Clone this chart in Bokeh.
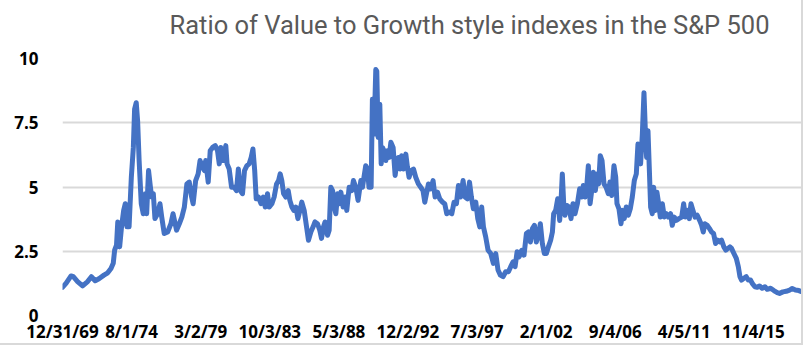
from bokeh.plotting import figure
from bokeh.models import Range1d, FixedTicker, ColumnDataSource, Title
from bokeh.embed import file_html
from bokeh.resources import INLINE

# Months elapsed since 12/31/1969 (category position) and value/growth ratio
months = [0, 2.8, 6.8, 8.6, 12, 16, 20, 23, 26, 29, 33, 36, 38.6, 40.4, 41.5, 43, 44, 45.5, 47, 48.7,
          50, 51.3, 53, 54.8, 56.4, 57.4, 58.7, 59.8, 61, 62.7, 64.3, 66, 67, 68.5, 70, 71, 72.3, 73.6,
          75.7, 77.6, 79, 81, 83.7, 86.3, 88, 90.8, 93, 95, 97, 99, 100.9, 102.8, 104, 106, 108, 109.5,
          111.5, 113, 114, 116, 117.6, 119.5, 121.6, 123.4, 124.8, 126, 128, 130, 131, 132.7, 134.6,
          136.7, 138.5, 140, 141.5, 143.3, 144.9, 146.8, 148.6, 150.2, 151.6, 153, 154.2, 156, 158,
          159.8, 161.4, 163.2, 164.5, 166.7, 168.5, 170.4, 172, 173.3, 174.6, 176, 177.8, 179.7, 181,
          182.6, 184.2, 185.8, 187.4, 189, 190.5, 192.4, 194.3, 195.8, 197.7, 199.5, 201, 203, 204.8,
          206.2, 207.8, 209, 211, 212.3, 213.6, 215, 216.3, 217.6, 219, 220.2, 221.6, 223.4, 225, 226.3,
          228.2, 230.3, 231.6, 233.5, 235.3, 237.5, 238.8, 240, 241.4, 242.8, 244, 245.7, 246.7, 248,
          249.4, 250.2, 251.3, 252.6, 253.7, 254.7, 256, 257.4, 258.7, 260, 261.4, 263.2, 264.8, 266,
          267.4, 268.8, 270, 271.4, 273.3, 274.6, 275.9, 277.5, 279.4, 281.2, 283.3, 285.2, 287, 288.4,
          291.3, 293.2, 295, 296.6, 298.5, 300.3, 302.5, 304.3, 305.9, 307.8, 309.9, 311.7, 313.6, 315.2,
          316.8, 318.9, 320.5, 322.3, 324, 325.5, 327.1, 329, 330.6, 332.2, 333.7, 335.1, 336.9, 338.8,
          340.9, 343, 344.9, 346.7, 348.6, 350.7, 352.8, 355, 356.8, 358.7, 360.3, 361.9, 363.5, 365.6,
          367.4, 369.3, 370.9, 372.5, 374.1, 375.7, 377.2, 378.8, 380.4, 382, 383.6, 385.2, 386.8, 388.6,
          390, 391, 392.6, 394.2, 395.8, 396.9, 397.9, 399, 400, 401.6, 403.2, 404.8, 406.4, 408, 409.9,
          411.7, 413.3, 414.6, 416, 417.5, 418.6, 420, 421.3, 422.6, 424.2, 425.5, 426.8, 428.1, 429.5,
          431.1, 432.7, 434.5, 435.8, 437.2, 439, 440.4, 441.4, 443, 444.6, 445.9, 447.2, 448.8, 450.4,
          452, 453.6, 455.2, 456.8, 458.1, 459.4, 460.2, 461.6, 462.9, 464, 465, 466.1, 467.2, 468.2,
          469.5, 470.6, 471.9, 473.2, 474.6, 475.9, 477.5, 479.1, 480.7, 482.2, 484.1, 485.4, 487, 488.6,
          490.7, 492.9, 494.5, 495.8, 497.4, 499, 500.3, 501.9, 503.5, 505.3, 507.2, 508.8, 510.1, 511.4,
          513.3, 515.1, 516.7, 518.3, 519.9, 521.5, 523.1, 524.7, 526.5, 528.1, 529.7, 531.3, 532.6,
          534.5, 536.4, 538, 539.3, 540.6, 542.4, 544.3, 545.9, 547.7, 549.1, 551.2, 553.1, 554.9, 557,
          559.2, 561, 563.7, 566.3, 569, 570.8, 573.5, 576.1, 578.8, 580.9, 583.5, 586.2, 588.3]

ratio = [1.10, 1.25, 1.54, 1.51, 1.32, 1.15, 1.32, 1.51, 1.35, 1.43, 1.57, 1.66, 1.83, 2.03, 2.54, 2.74,
         3.64, 2.67, 3.45, 4.09, 4.35, 3.45, 3.45, 5.38, 6.54, 8.03, 8.28, 7.57, 6.03, 4.35, 3.96, 4.74,
         3.96, 5.64, 4.99, 4.61, 4.74, 3.77, 3.96, 4.35, 3.83, 3.19, 3.25, 3.57, 3.96, 3.32, 3.57, 3.83,
         4.22, 5.12, 5.19, 4.61, 4.35, 5.25, 5.51, 6.03, 5.77, 5.64, 6.03, 5.19, 6.41, 6.54, 6.61, 6.41,
         5.90, 6.54, 6.03, 6.61, 5.90, 5.70, 4.99, 4.99, 4.86, 5.70, 4.86, 4.74, 5.64, 5.83, 5.90, 6.15,
         6.48, 5.64, 4.54, 4.61, 4.35, 4.61, 4.22, 4.74, 4.22, 4.35, 4.61, 5.12, 5.25, 5.51, 5.25, 4.74,
         4.61, 4.86, 4.48, 4.22, 4.09, 4.22, 3.77, 4.09, 4.41, 4.09, 3.45, 2.93, 3.25, 3.45, 3.64, 3.57,
         3.32, 3.00, 3.45, 3.64, 3.12, 3.32, 4.99, 4.86, 4.22, 3.96, 4.74, 4.35, 4.80, 4.22, 4.61, 4.09,
         4.99, 4.86, 5.25, 4.99, 4.48, 5.25, 4.99, 5.38, 5.83, 5.70, 4.99, 4.99, 8.41, 7.06, 9.57, 9.51,
         6.93, 8.22, 5.90, 6.54, 6.41, 6.03, 6.41, 6.15, 6.74, 6.54, 5.45, 5.90, 6.15, 5.70, 6.22, 5.70,
         6.28, 5.77, 5.38, 5.64, 5.70, 5.38, 5.12, 4.99, 4.86, 4.41,
         5.12, 4.93, 5.25, 4.61, 4.80, 4.54, 4.41, 4.35, 3.96, 4.03, 3.96, 4.41, 4.35, 5.06, 4.61, 5.25,
         4.61, 4.54, 5.19, 4.61, 4.15, 4.41, 3.77, 3.45, 4.22, 3.45, 3.06, 2.54, 2.41, 2.03, 2.41, 1.77,
         1.57, 1.51, 1.70, 1.70, 1.90, 2.09, 1.90, 2.48, 2.28, 2.54, 2.35, 3.19, 3.25, 2.86, 3.38, 3.51,
         2.86, 3.12, 3.57, 2.80, 2.41, 2.41, 2.67, 2.93, 3.25, 3.96, 4.09, 4.54, 3.70, 4.48, 5.51, 4.35,
         3.90, 4.28, 4.22, 3.77, 4.35, 3.96, 4.35, 4.93, 4.61, 5.06, 4.61, 5.12, 5.83, 4.35, 4.86, 5.57,
         4.86, 5.51, 5.12, 6.22, 6.03, 5.12, 4.99, 4.74, 5.19, 4.67, 5.83, 5.38, 4.35, 4.15, 3.57, 4.09,
         3.77, 4.22, 3.90, 4.15, 4.61, 5.25, 5.51, 6.67, 6.41, 5.90, 7.06, 8.67, 7.19, 6.15, 7.19, 5.64,
         4.22, 3.96, 4.99, 4.09, 4.80, 4.35, 3.83, 4.35, 3.83, 3.96, 3.83, 3.96, 3.51, 3.83, 3.70, 3.77,
         3.83, 4.35, 3.83, 4.09, 3.77, 4.35, 4.09, 3.83, 3.90, 3.70, 3.51, 3.25, 3.57, 3.51, 3.38, 3.25,
         3.19, 2.80, 2.93, 2.86, 2.93, 2.67, 2.54, 2.61, 2.67, 2.61, 2.41, 2.22, 1.90, 1.51, 1.38, 1.45,
         1.51, 1.38, 1.38, 1.25, 1.12, 1.10, 1.15, 1.06, 1.12, 1.02, 1.06, 0.97, 0.89, 0.86, 0.92, 0.94,
         0.99, 1.05, 0.99, 0.97, 0.93]

tick_months = [0, 55, 110, 165, 220, 275, 330, 385, 440, 495, 550]
tick_labels = ["12/31/69", "8/1/74", "3/2/79", "10/3/83", "5/3/88", "12/2/92",
               "7/3/97", "2/1/02", "9/4/06", "4/5/11", "11/4/15"]
y_ticks = [0, 2.5, 5, 7.5, 10]
y_labels = ["0", "2.5", "5", "7.5", "10"]
title_text = "Ratio of Value to Growth style indexes in the S&P 500"

src = ColumnDataSource(dict(m=months, r=ratio))

p = figure(width=803, height=345, output_backend="svg", toolbar_location=None,
           x_range=Range1d(0, 588.3), y_range=Range1d(0, 10),
           min_border_left=62, min_border_right=2, min_border_top=58, min_border_bottom=30,
           title=title_text)

# spacer between the plot frame and the title
p.add_layout(Title(text=" ", text_font_size="8px", standoff=6), "above")

p.title.text_font = "Roboto"
p.title.text_font_size = "25.5px"
p.title.text_font_style = "normal"
p.title.text_color = "#595959"
p.title.align = "left"
p.title.offset = 107
p.title.standoff = 4

p.line("m", "r", source=src, line_color="#4472C4", line_width=5,
       line_join="round", line_cap="round")

p.outline_line_color = None
p.background_fill_color = "white"
p.border_fill_color = "white"

p.xgrid.grid_line_color = None
p.ygrid.ticker = FixedTicker(ticks=y_ticks)
p.ygrid.grid_line_color = "#d9d9d9"
p.ygrid.grid_line_width = 2

p.xaxis.ticker = FixedTicker(ticks=tick_months)
p.xaxis.major_label_overrides = {t: l for t, l in zip(tick_months, tick_labels)}
p.yaxis.ticker = FixedTicker(ticks=y_ticks)
p.yaxis.major_label_overrides = {t: l for t, l in zip(y_ticks, y_labels)}

for ax in (p.xaxis[0], p.yaxis[0]):
    ax.axis_line_color = None
    ax.major_tick_line_color = None
    ax.minor_tick_line_color = None
    ax.major_tick_out = 0
    ax.major_tick_in = 0
    ax.minor_tick_out = 0
    ax.major_label_text_font = "Open Sans"
    ax.major_label_text_font_style = "bold"
    ax.major_label_text_font_size = "17px"
    ax.major_label_text_color = "#000000"
p.xaxis.major_label_standoff = 4
p.yaxis.major_label_standoff = 24

p.styles = {"border-right": "2px solid #d9d9d9", "border-bottom": "2px solid #d9d9d9"}

open("out.html", "w").write(file_html(p, INLINE))
